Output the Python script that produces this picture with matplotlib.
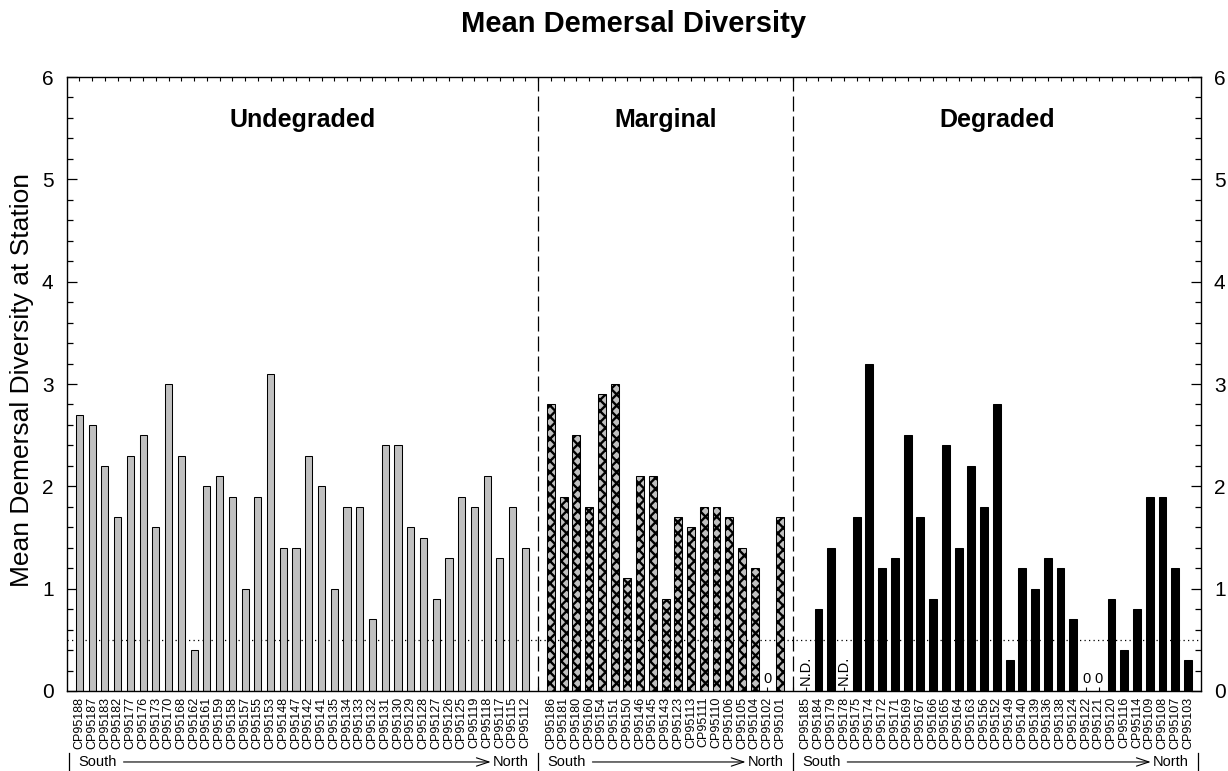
import matplotlib
matplotlib.use("Agg")
import matplotlib.pyplot as plt
import numpy as np

plt.rcParams['font.family'] = ['Liberation Sans', 'DejaVu Sans']

# Stations ordered south to north within each habitat class
undegraded_stations = [
    "CP95188", "CP95187", "CP95183", "CP95182", "CP95177", "CP95176", "CP95173",
    "CP95170", "CP95168", "CP95162", "CP95161", "CP95159", "CP95158", "CP95157",
    "CP95155", "CP95153", "CP95148", "CP95147", "CP95142", "CP95141", "CP95135",
    "CP95134", "CP95133", "CP95132", "CP95131", "CP95130", "CP95129", "CP95128",
    "CP95127", "CP95126", "CP95125", "CP95119", "CP95118", "CP95117", "CP95115",
    "CP95112",
]
undegraded_values = [
    2.7, 2.6, 2.2, 1.7, 2.3, 2.5, 1.6, 3.0, 2.3, 0.4, 2.0, 2.1, 1.9, 1.0, 1.9,
    3.1, 1.4, 1.4, 2.3, 2.0, 1.0, 1.8, 1.8, 0.7, 2.4, 2.4, 1.6, 1.5, 0.9, 1.3,
    1.9, 1.8, 2.1, 1.3, 1.8, 1.4,
]

marginal_stations = [
    "CP95186", "CP95181", "CP95180", "CP95160", "CP95154", "CP95151", "CP95150",
    "CP95146", "CP95145", "CP95143", "CP95123", "CP95113", "CP95111", "CP95110",
    "CP95106", "CP95105", "CP95104", "CP95102", "CP95101",
]
marginal_values = [
    2.8, 1.9, 2.5, 1.8, 2.9, 3.0, 1.1, 2.1, 2.1, 0.9, 1.7, 1.6, 1.8, 1.8, 1.7,
    1.4, 1.2, 0.0, 1.7,
]

degraded_stations = [
    "CP95185", "CP95184", "CP95179", "CP95178", "CP95175", "CP95174", "CP95172",
    "CP95171", "CP95169", "CP95167", "CP95166", "CP95165", "CP95164", "CP95163",
    "CP95156", "CP95152", "CP95149", "CP95140", "CP95139", "CP95136", "CP95138",
    "CP95124", "CP95122", "CP95121", "CP95120", "CP95116", "CP95114", "CP95109",
    "CP95108", "CP95107", "CP95103",
]
# nan marks stations with no data (N.D.)
degraded_values = [
    np.nan, 0.8, 1.4, np.nan, 1.7, 3.2, 1.2, 1.3, 2.5, 1.7, 0.9, 2.4, 1.4, 2.2,
    1.8, 2.8, 0.3, 1.2, 1.0, 1.3, 1.2, 0.7, 0.0, 0.0, 0.9, 0.4, 0.8, 1.9, 1.9,
    1.2, 0.3,
]

group_names = ["Undegraded", "Marginal", "Degraded"]
threshold = 0.5

groups = [
    (undegraded_stations, undegraded_values,
     dict(facecolor="#c0c0c0", edgecolor="black", linewidth=0.75), 0.56),
    (marginal_stations, marginal_values,
     dict(facecolor="#c0c0c0", edgecolor="black", linewidth=0.75, hatch="xxx"), 0.62),
    (degraded_stations, degraded_values,
     dict(facecolor="black", edgecolor="black", linewidth=0.75), 0.62),
]

plt.rcParams['hatch.linewidth'] = 1.7

fig = plt.figure(figsize=(12.28, 7.71), dpi=100)
ax = fig.add_axes([66.7 / 1228, 80 / 771, 1134 / 1228, 614 / 771])
ax.set_axisbelow(True)

tick_pos = []
tick_lab = []
separators = []
spans = []
start = 1
for i, (stations, values, style, width) in enumerate(groups):
    pos = np.arange(start, start + len(stations))
    vals = np.asarray(values, dtype=float)
    ax.bar(pos, np.nan_to_num(vals), width=width, zorder=2, **style)
    for p, v in zip(pos, vals):
        if np.isnan(v):
            ax.text(p, 0.06, "N.D.", rotation=90, ha="center", va="bottom",
                    fontsize=10.5, zorder=3)
        elif v == 0:
            ax.text(p, 0.05, "0", ha="center", va="bottom", fontsize=10.5, zorder=3)
    tick_pos.extend(pos)
    tick_lab.extend(stations)
    spans.append((pos[0], pos[-1]))
    end = pos[-1] + 1
    if i < len(groups) - 1:
        separators.append(end)
        tick_pos.append(end)
        tick_lab.append("")
    start = end + 1

xmax = spans[-1][1] + 1

for s in separators:
    ax.axvline(s, color="black", lw=0.9, ls=(0, (12, 4)), zorder=1.5)
ax.axhline(threshold, color="black", lw=0.9, ls=(0, (1, 2.6)), zorder=1.5)

for name, (a, b) in zip(group_names, spans):
    ax.text((a + b) / 2, 5.51, name, ha="center", va="baseline",
            fontsize=18, fontweight="bold")

ax.set_xlim(0, xmax)
ax.set_ylim(0, 6)
ax.set_xticks(tick_pos)
ax.set_xticklabels(tick_lab, rotation=90, fontsize=9)
ax.tick_params(axis="x", which="major", direction="in", length=3, width=0.8,
               top=True, bottom=True, pad=4)
ax.set_yticks(np.arange(0, 7, 1))
ax.set_yticks(np.arange(0, 6.01, 0.2), minor=True)
ax.tick_params(axis="y", which="major", direction="in", length=7.5, width=0.9,
               left=True, right=True, labelleft=True, labelright=True,
               labelsize=15, pad=9.5)
ax.tick_params(axis="y", which="minor", direction="in", length=4.3, width=0.9,
               left=True, right=True)
for sp in ax.spines.values():
    sp.set_linewidth(1.0)

fig.text(633.5 / 1228, (771 - 31.7) / 771, "Mean Demersal Diversity",
         ha="center", va="baseline", fontsize=21, fontweight="bold")
fig.text(22.5 / 1228, (771 - 380) / 771, "Mean Demersal Diversity at Station",
         rotation=90, ha="center", va="center", fontsize=19)

# South -> North orientation bars under each group
trans = ax.get_xaxis_transform()
label_y = -0.1156
bounds = [0.2] + separators + [xmax - 0.2]
south_texts = []
north_texts = []
for k in range(len(spans)):
    left_b, right_b = bounds[k], bounds[k + 1]
    ax.plot([left_b, left_b], [-0.101, -0.129], transform=trans, color="black",
            lw=0.9, clip_on=False)
    south_texts.append(ax.text(left_b + 0.7, label_y, "South", transform=trans,
                               ha="left", va="center", fontsize=10.5))
    north_texts.append(ax.text(right_b - 0.75, label_y, "North", transform=trans,
                               ha="right", va="center", fontsize=10.5))
ax.plot([bounds[-1], bounds[-1]], [-0.101, -0.129], transform=trans,
        color="black", lw=0.9, clip_on=False)

fig.canvas.draw()
renderer = fig.canvas.get_renderer()
for st, nt in zip(south_texts, north_texts):
    sb = st.get_window_extent(renderer)
    nb = nt.get_window_extent(renderer)
    yc = (sb.y0 + sb.y1) / 2
    ax.annotate("", xy=(nb.x0 - 2, yc), xytext=(sb.x1 + 7, yc),
                xycoords="figure pixels", textcoords="figure pixels",
                arrowprops=dict(arrowstyle="->,head_length=0.6,head_width=0.2",
                                lw=0.8, color="black", shrinkA=0, shrinkB=0,
                                mutation_scale=15))

fig.savefig("out.png", dpi=100)
